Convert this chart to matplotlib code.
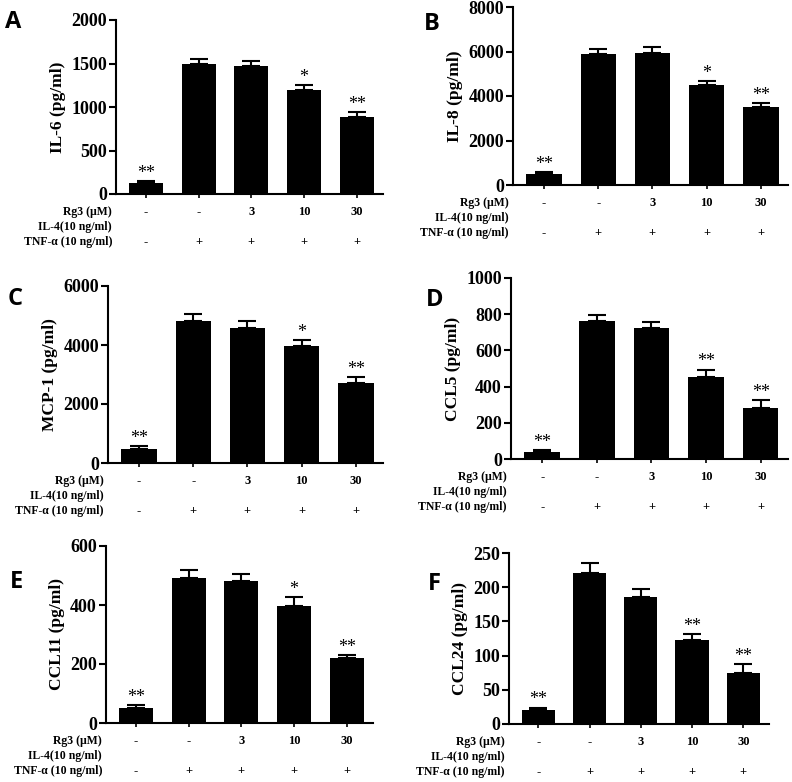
import numpy as np
import matplotlib
matplotlib.use('Agg')
from matplotlib import pyplot as plt
from matplotlib import transforms

# bar values (mean, upper error)
il6 = [130, 1500, 1470, 1200, 885]
il6_err = [22, 55, 55, 50, 52]
il8 = [500, 5900, 5930, 4500, 3500]
il8_err = [90, 220, 250, 180, 180]
mcp1 = [475, 4800, 4570, 3950, 2710]
mcp1_err = [90, 240, 240, 220, 200]
ccl5 = [40, 760, 722, 452, 282]
ccl5_err = [10, 35, 35, 42, 46]
ccl11 = [52, 493, 483, 398, 220]
ccl11_err = [10, 26, 22, 30, 11]
ccl24 = [20, 221, 185, 123, 74]
ccl24_err = [4, 15, 13, 9, 13]

sig_a = ['**', '', '', '*', '**']
sig_d = ['**', '', '', '**', '**']

rg3_row = ['-', '-', '3', '10', '30']
il4_row = ['', '', '', '', '']
tnf_row = ['-', '+', '+', '+', '+']
row_names = ['Rg3 (\u03bcM)', 'IL-4(10 ng/ml)', 'TNF-\u03b1 (10 ng/ml)']

panels = [
    ('A', 'IL-6 (pg/ml)', il6, il6_err, sig_a, 2000, 500),
    ('B', 'IL-8 (pg/ml)', il8, il8_err, sig_a, 8000, 2000),
    ('C', 'MCP-1 (pg/ml)', mcp1, mcp1_err, sig_a, 6000, 2000),
    ('D', 'CCL5 (pg/ml)', ccl5, ccl5_err, sig_d, 1000, 200),
    ('E', 'CCL11 (pg/ml)', ccl11, ccl11_err, sig_a, 600, 200),
    ('F', 'CCL24 (pg/ml)', ccl24, ccl24_err, sig_d, 250, 50),
]

# axes boxes in pixels: left, right, top, bottom
W, H = 792, 782
boxes = [
    (116, 383, 20, 194),
    (513, 788, 7, 185),
    (108, 383, 286, 463),
    (511, 788, 278, 459),
    (106, 373, 546, 723),
    (509, 769, 553, 724),
]
letter_pos = [(5, 28), (424, 30), (8, 305), (426, 306), (10, 588), (428, 590)]

serif = 'Liberation Serif'
fig = plt.figure(figsize=(W / 100, H / 100), dpi=100)

x = np.arange(5)
for (letter, ylab, vals, errs, sig, ymax, step), (l, r, t, b), (lx, ly) in zip(panels, boxes, letter_pos):
    ax = fig.add_axes([l / W, 1 - b / H, (r - l) / W, (b - t) / H])
    ax.bar(x, vals, width=0.65, color='black', zorder=2)
    ax.errorbar(x, vals, yerr=[np.zeros(5), errs], fmt='none', ecolor='black',
                elinewidth=1.5, capsize=6.5, capthick=1.5, zorder=1)
    ax.set_xlim(-0.57, 4.5)
    ax.set_ylim(0, ymax)
    ax.set_yticks(np.arange(0, ymax + step, step))
    ax.set_xticks(x)
    ax.set_xticklabels([])
    ax.tick_params(axis='x', length=3, width=1.2)
    ax.tick_params(axis='y', length=5, width=1.5, pad=1.5)
    for lab in ax.get_yticklabels():
        lab.set_fontfamily(serif)
        lab.set_fontweight('bold')
        lab.set_fontsize(13)
    ax.set_ylabel(ylab, fontfamily=serif, fontweight='bold', fontsize=12.5, labelpad=4)
    for sp in ['top', 'right']:
        ax.spines[sp].set_visible(False)
    for sp in ['left', 'bottom']:
        ax.spines[sp].set_linewidth(1.5)

    # significance stars
    for i in range(5):
        if sig[i]:
            ax.text(x[i], vals[i] + errs[i] - ymax * 0.005, sig[i], ha='center', va='bottom',
                    fontfamily=serif, fontsize=13)

    # treatment rows under the axis
    blend = transforms.blended_transform_factory(ax.transData, ax.transAxes)
    for k, row in enumerate([rg3_row, il4_row, tnf_row]):
        off = transforms.ScaledTranslation(0, -(18 + 15 * k) / 100, fig.dpi_scale_trans)
        for i in range(5):
            ax.text(x[i], 0, row[i], transform=blend + off, ha='center', va='center',
                    fontfamily=serif, fontweight='bold', fontsize=9)
        off2 = transforms.ScaledTranslation(-4 / 100, -(18 + 15 * k) / 100, fig.dpi_scale_trans)
        ax.text(0, 0, row_names[k], transform=ax.transAxes + off2, ha='right', va='center',
                fontfamily=serif, fontweight='bold', fontsize=8.5)

    fig.text(lx / W, 1 - ly / H, letter, fontfamily='Open Sans', fontweight='bold',
             fontsize=17, ha='left', va='baseline')

fig.savefig('out.png', dpi=100)
